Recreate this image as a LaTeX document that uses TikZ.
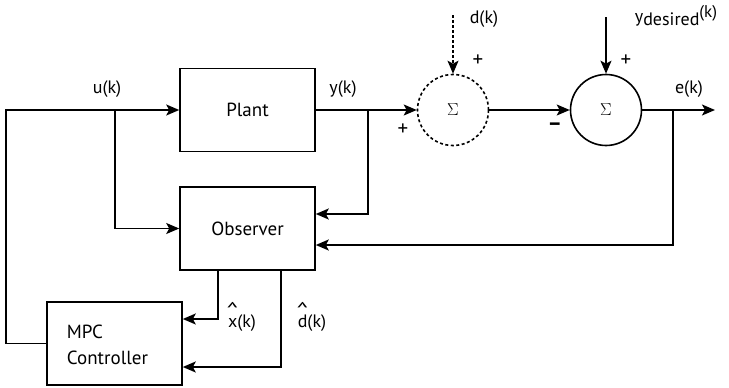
\documentclass[tikz,border=0pt]{standalone}
\usepackage{fontspec}
\setmainfont{PT Sans}
\usetikzlibrary{arrows.meta}
\newcommand{\hatover}[1]{{\ooalign{#1\cr\hidewidth\raisebox{0.58em}{\scalebox{1.4}[1.1]{\textasciicircum}}\hidewidth\cr}}}
\begin{document}
\begin{tikzpicture}[x=1pt,y=-1pt, line width=1.8pt,
 >={Stealth[length=13pt,width=11pt,inset=3pt]},
 blk/.style={draw, line width=1.6pt, minimum width=135pt, minimum height=83pt, inner sep=0pt, font=\fontsize{19}{22}\selectfont},
 lbl/.style={font=\fontsize{18}{21}\selectfont, inner sep=0pt},
 sm/.style={font=\fontsize{21}{22}\selectfont, inner sep=0pt},
 sumnode/.style={circle, draw, line width=1.6pt, minimum size=71pt, inner sep=0pt, font=\fontsize{18}{20}\selectfont}]
\useasboundingbox (0,0) rectangle (729,388);
\node[blk] (plant) at (247.5,110) {Plant};
\node[blk] (obs) at (247.5,228.5) {Observer};
\node[blk] (mpc) at (114.5,343.5) {};
\node[lbl, anchor=west, align=left, font=\fontsize{19}{26}\selectfont] (mpctext) at (66,345) {MPC\\Controller};
\node[sumnode, dash pattern=on 3pt off 2.5pt] (s1) at (453,110) {$\Sigma$};
\node[sumnode] (s2) at (606,110) {$\Sigma$};
\coordinate (L) at (6,0);
\coordinate (ub) at (115,0);
\coordinate (yb) at (368,0);
\coordinate (eb) at (673,110);
\coordinate (out) at (715,110);
\coordinate (dtop) at (453,15);
\coordinate (ytop) at (606,17);
\coordinate (xb) at (218,0);
\coordinate (db) at (281,0);
% connectors
\draw[->] (mpc.west) -| (L |- plant.west) -- (plant.west);
\draw[->] (ub |- plant.west) |- (obs.west);
\draw[->] (plant.east) -- (s1.west);
\draw[->] (yb |- plant.east) |- ([yshift=14.5pt]obs.east);
\draw[->] (s1.east) -- (s2.west);
\draw[->] (s2.east) -- (out);
\draw[->] (eb) |- ([yshift=-16.5pt]obs.east);
\draw[->, line width=1.5pt, dash pattern=on 3pt off 2pt] (dtop) -- (s1.north);
\draw[->] (ytop) -- (s2.north);
\draw[->] (xb |- obs.south) |- ([yshift=24.5pt]mpc.east);
\draw[->] (db |- obs.south) |- ([yshift=-23.5pt]mpc.east);
% labels
\node[lbl] (lu) at (107,89) {u(k)};
\node[lbl] (ly) at (343,89) {y(k)};
\node[lbl] (ld) at (484,19) {d(k)};
\node[lbl] (le) at (689,89) {e(k)};
\node[lbl] (lyd) at (676,16) {y\raisebox{-3pt}{desired}\raisebox{5pt}{\fontsize{17}{18}\selectfont(k)}};
\node[sm] (p1) at (478,61) {+};
\node[sm] (p2) at (403,130) {+};
\node[sm] (p3) at (626,61) {+};
\node[font=\fontsize{22}{22}\selectfont\bfseries, inner sep=0pt] (m1) at (555,127) {–};
\node[lbl] (lx) at (242,323) {\hatover{x}(k)};
\node[lbl] (ldh) at (312,323) {\hatover{d}(k)};
\end{tikzpicture}
\end{document}
